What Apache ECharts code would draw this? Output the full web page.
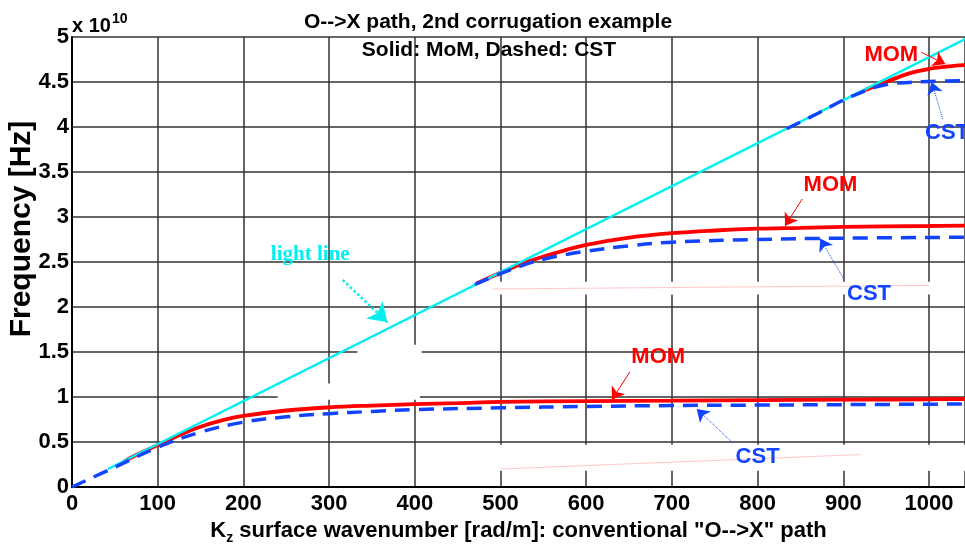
<!DOCTYPE html>
<html>
<head>
<meta charset="utf-8">
<script src="https://cdn.jsdelivr.net/npm/echarts@6/dist/echarts.min.js"></script>
<style>
  html, body { margin: 0; padding: 0; background: #fff; }
  #chart { width: 965px; height: 544px; }
</style>
</head>
<body>
<div id="chart"></div>
<script>
// Kz in rad/m, frequency in units of 1e10 Hz
const lightLine = [[42, 0.20], [1047, 5.0]];
const momBand1 = [[60, 0.28], [75, 0.355], [100, 0.465], [125, 0.575], [150, 0.67], [175, 0.74], [200, 0.79], [250, 0.85], [300, 0.885], [350, 0.905], [400, 0.92], [450, 0.932], [500, 0.945], [600, 0.955], [700, 0.96], [800, 0.965], [900, 0.97], [1000, 0.975], [1042, 0.978]];
const cstBand1 = [[0, 0], [50, 0.22], [100, 0.44], [150, 0.61], [200, 0.72], [250, 0.78], [300, 0.815], [350, 0.84], [400, 0.86], [500, 0.88], [600, 0.895], [700, 0.905], [800, 0.91], [900, 0.915], [1042, 0.922]];
const momBand2 = [[472, 2.26], [500, 2.38], [525, 2.48], [550, 2.56], [575, 2.63], [600, 2.69], [650, 2.77], [700, 2.82], [750, 2.85], [800, 2.87], [850, 2.88], [900, 2.89], [1000, 2.9], [1042, 2.905]];
const cstBand2 = [[470, 2.25], [500, 2.37], [525, 2.46], [550, 2.53], [575, 2.58], [600, 2.62], [650, 2.68], [700, 2.72], [800, 2.75], [900, 2.765], [1042, 2.775]];
const momBand3 = [[925, 4.41], [950, 4.5], [975, 4.59], [1000, 4.645], [1020, 4.67], [1042, 4.69]];
const cstBand3 = [[834, 3.98], [870, 4.15], [900, 4.3], [920, 4.38], [940, 4.45], [960, 4.485], [1000, 4.505], [1042, 4.515]];

const titleText = 'O-->X path, 2nd corrugation example';
const subtitleText = 'Solid: MoM, Dashed: CST';
const yTitle = 'Frequency [Hz]';

const RED = '#ff0000';
const BLUE = '#1144ff';
const CYAN = '#00f0f0';
const FONT = 'Arial, "Liberation Sans", Helvetica, sans-serif';

// callout labels (data coordinates)
const notes = [
  { text: 'light line', at: [278, 2.58], color: CYAN, serif: true },
  { text: 'MOM', at: [956, 4.80], color: RED },
  { text: 'CST', at: [1021, 3.93], color: BLUE },
  { text: 'MOM', at: [885, 3.36], color: RED },
  { text: 'CST', at: [930, 2.14], color: BLUE },
  { text: 'MOM', at: [684, 1.44], color: RED },
  { text: 'CST', at: [800, 0.33], color: BLUE }
];
// callout arrows (data coordinates)
const arrows = [
  { from: [316, 2.30], to: [368, 1.83], color: CYAN, type: 'dotted', width: 2.5, head: 18 },
  { from: [991, 4.83], to: [1019, 4.70], color: RED, type: 'solid', width: 1, head: 12 },
  { from: [1016, 4.09], to: [1003, 4.50], color: BLUE, type: 'dotted', width: 1, head: 12 },
  { from: [852, 3.20], to: [832, 2.90], color: RED, type: 'solid', width: 1, head: 12 },
  { from: [900, 2.32], to: [873, 2.76], color: BLUE, type: 'dotted', width: 1, head: 12 },
  { from: [651, 1.28], to: [630, 0.97], color: RED, type: 'solid', width: 1, head: 12 },
  { from: [771, 0.49], to: [729, 0.867], color: BLUE, type: 'dotted', width: 1, head: 12 }
];
// erased areas of the plot background, [kz0, f0, kz1, f1]
const erased = [
  [240, 0.97, 406, 1.15],
  [333, 1.14, 408, 1.58],
  [488, 2.14, 1013, 2.28],
  [476, 0.18, 1042, 0.47]
];
// faint leftover strokes, [kz0, f0, kz1, f1]
const faintStrokes = [
  [490, 2.20, 1000, 2.24],
  [500, 0.20, 920, 0.36]
];

function curve(name, data, color, dashed, z) {
  return {
    name: name,
    type: 'line',
    data: data,
    showSymbol: false,
    smooth: 0.4,
    z: z,
    lineStyle: dashed
      ? { color: color, width: 3.5, type: [15, 9] }
      : { color: color, width: 3.8 },
    animation: false,
    silent: true
  };
}

const chart = echarts.init(document.getElementById('chart'), null, { renderer: 'canvas' });

const option = {
  backgroundColor: '#ffffff',
  animation: false,
  grid: { left: 72, right: 0, top: 37, bottom: 57, outerBoundsMode: 'none', containLabel: false },
  xAxis: [
    {
      type: 'value', min: 0, max: 1042, interval: 100,
      axisLine: { show: true, onZero: false, lineStyle: { color: '#000', width: 2 } },
      axisTick: { show: false },
      splitLine: { show: true, lineStyle: { color: '#333', width: 1.5 } },
      axisLabel: {
        color: '#000', fontFamily: FONT, fontWeight: 'bold', fontSize: 22, margin: 6,
        formatter: v => (v % 100 === 0 ? String(v) : '')
      },
      name: '{k|K}{s|z}{k| surface wavenumber [rad/m]: conventional "O-->X" path}',
      nameLocation: 'middle',
      nameGap: 22,
      nameTextStyle: {
        rich: {
          k: { fontFamily: FONT, fontWeight: 'bold', fontSize: 22, color: '#000' },
          s: { fontFamily: FONT, fontWeight: 'bold', fontSize: 14, color: '#000', verticalAlign: 'bottom', padding: [14, 0, 0, 0] }
        }
      }
    },
    {
      type: 'value', min: 0, max: 1042, position: 'top',
      axisLine: { show: true, lineStyle: { color: '#000', width: 2 } },
      axisTick: { show: false }, axisLabel: { show: false }, splitLine: { show: false }
    }
  ],
  yAxis: {
    type: 'value', min: 0, max: 5, interval: 0.5,
    axisLine: { show: true, lineStyle: { color: '#000', width: 2 } },
    axisTick: { show: false },
    splitLine: { show: true, lineStyle: { color: '#333', width: 1.5 } },
    axisLabel: { color: '#000', fontFamily: FONT, fontWeight: 'bold', fontSize: 22, margin: 3 }
  },
  series: [
    curve('MoM band 1', momBand1, RED, false, 2),
    curve('MoM band 2', momBand2, RED, false, 2),
    curve('MoM band 3', momBand3, RED, false, 2),
    Object.assign(curve('light line', lightLine, CYAN, false, 3), { smooth: false, lineStyle: { color: CYAN, width: 2.5 } }),
    curve('CST band 1', cstBand1, BLUE, true, 4),
    curve('CST band 2', cstBand2, BLUE, true, 4),
    curve('CST band 3', cstBand3, BLUE, true, 4),
    {
      name: 'callouts',
      type: 'line',
      data: [],
      z: 5,
      animation: false,
      silent: true,
      markLine: {
        silent: true,
        animation: false,
        label: { show: false },
        data: arrows.map(a => [
          { coord: a.from, symbol: 'none', lineStyle: { color: a.color, type: a.type, width: a.width } },
          { coord: a.to, symbol: 'arrow', symbolSize: a.head, itemStyle: { color: a.color } }
        ])
      },
      markPoint: {
        silent: true,
        animation: false,
        symbol: 'circle',
        symbolSize: 1,
        itemStyle: { color: 'rgba(0,0,0,0)' },
        data: notes.map(n => ({
          coord: n.at,
          label: {
            show: true, position: 'inside', formatter: n.text, color: n.color,
            fontFamily: n.serif ? '"Liberation Serif", "Times New Roman", serif' : FONT,
            fontWeight: 'bold', fontSize: n.serif ? 21 : 22
          }
        }))
      }
    }
  ]
};

chart.setOption(option);

// background patches and faint strokes, placed through the axes' scales
const patchGraphics = erased.map(r => {
  const p0 = chart.convertToPixel({ gridIndex: 0 }, [r[0], r[3]]);
  const p1 = chart.convertToPixel({ gridIndex: 0 }, [r[2], r[1]]);
  return {
    type: 'rect', silent: true, z: 1,
    shape: { x: p0[0], y: p0[1], width: p1[0] - p0[0], height: p1[1] - p0[1] },
    style: { fill: '#ffffff' }
  };
});
const strokeGraphics = faintStrokes.map(s => {
  const p0 = chart.convertToPixel({ gridIndex: 0 }, [s[0], s[1]]);
  const p1 = chart.convertToPixel({ gridIndex: 0 }, [s[2], s[3]]);
  return {
    type: 'line', silent: true, z: 1,
    shape: { x1: p0[0], y1: p0[1], x2: p1[0], y2: p1[1] },
    style: { stroke: '#ffc8c8', lineWidth: 1 }
  };
});

chart.setOption({
  graphic: patchGraphics.concat(strokeGraphics).concat([
    {
      type: 'text', x: 488, y: 22, silent: true, z: 10,
      style: { text: titleText, fill: '#000', font: 'bold 21px ' + FONT, align: 'center', verticalAlign: 'middle' }
    },
    {
      type: 'text', x: 489, y: 50, silent: true, z: 10,
      style: { text: subtitleText, fill: '#000', font: 'bold 21px ' + FONT, align: 'center', verticalAlign: 'middle' }
    },
    {
      type: 'text', x: 72, y: 26, silent: true, z: 10,
      style: {
        text: '{a|x 10}{b|10}', verticalAlign: 'middle',
        rich: {
          a: { fontFamily: FONT, fontWeight: 'bold', fontSize: 20, fill: '#000' },
          b: { fontFamily: FONT, fontWeight: 'bold', fontSize: 14, fill: '#000', verticalAlign: 'top', padding: [0, 0, 14, 1] }
        }
      }
    },
    {
      type: 'text', x: 22, y: 229, rotation: Math.PI / 2, silent: true, z: 10,
      style: { text: yTitle, fill: '#000', font: 'bold 30px ' + FONT, align: 'center', verticalAlign: 'middle' }
    }
  ])
});
</script>
</body>
</html>
